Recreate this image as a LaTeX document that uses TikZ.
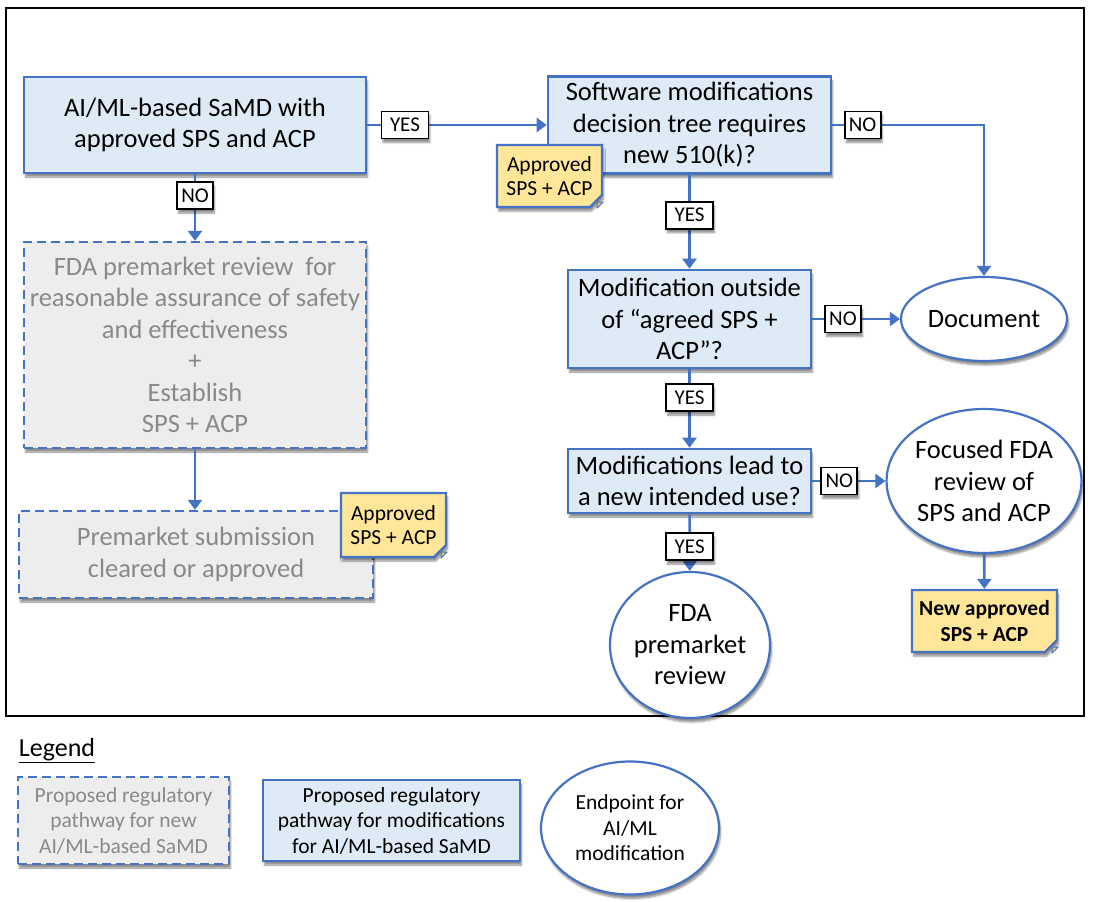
\documentclass[tikz,border=0pt]{standalone}
\usepackage{fontspec}
\setmainfont{Carlito}
\usetikzlibrary{arrows.meta,shapes.geometric,shapes.misc,shadows.blur}

\definecolor{flowBlue}{RGB}{68,114,196}
\definecolor{modFill}{RGB}{222,235,247}
\definecolor{newFill}{RGB}{237,237,237}
\definecolor{newText}{RGB}{137,137,137}
\definecolor{noteFill}{RGB}{255,230,153}
\definecolor{foldFill}{RGB}{222,196,122}

\begin{document}
\begin{tikzpicture}
   [x=1pt,y=-1pt,
    every node/.style={align=center,inner sep=0pt},
    softShadow/.style={blur shadow={shadow xshift=1.5pt,shadow yshift=-4pt,shadow blur steps=6,shadow opacity=45}},
    bigFont/.style={font=\fontsize{26.5}{31.5}\selectfont},
    legendFont/.style={font=\fontsize{21.5}{25.5}\selectfont},
    modBox/.style={rectangle,draw=flowBlue,fill=modFill,line width=2.6pt,bigFont,softShadow},
    newBox/.style={rectangle,draw=flowBlue,fill=newFill,text=newText,line width=2.4pt,dash pattern=on 9pt off 5pt,bigFont,softShadow},
    endPoint/.style={ellipse,draw=flowBlue,fill=white,line width=2.2pt,bigFont,softShadow},
    noteBox/.style={chamfered rectangle,chamfered rectangle corners=south east,chamfered rectangle sep=6pt,
       draw=flowBlue,fill=noteFill,line width=2.2pt,font=\fontsize{21.5}{24}\selectfont,softShadow},
    yesNo/.style={rectangle,draw=black,fill=white,line width=1.8pt,minimum height=27pt,minimum width=36pt,inner xsep=4pt,
       font=\fontsize{21}{22}\selectfont,softShadow},
    yesTag/.style={yesNo,minimum width=47pt},
    flow/.style={draw=flowBlue,line width=2.7pt,-{Triangle[length=10pt,width=14pt]}}]
   \useasboundingbox (0,0) rectangle (1095,902);

   \draw[line width=2pt] (6,8) rectangle (1084,716);

   \node[modBox,minimum width=342pt,minimum height=96pt] (samd) at (195,125) {AI/ML-based SaMD with\\approved SPS and ACP};
   \node[newBox,minimum width=342pt,minimum height=206pt] (review) at (195,345)
      {FDA premarket review~ for\\reasonable assurance of safety\\and effectiveness\\+\\Establish\\SPS + ACP};
   \node[newBox,minimum width=354pt,minimum height=87pt] (cleared) at (196,554.5) {Premarket submission\\cleared or approved};
   \node[noteBox,minimum width=105pt,minimum height=64pt] (noteNew) at (393.5,525) {Approved\\SPS + ACP};

   \node[modBox,minimum width=283pt,minimum height=97pt] (tree) at (689.5,125) {Software modifications\\decision tree requires\\new 510(k)?};
   \node[noteBox,minimum width=105pt,minimum height=62pt] (noteTree) at (549.5,176) {Approved\\SPS + ACP};
   \node[modBox,minimum width=243pt,minimum height=98pt] (outside) at (689.5,319) {Modification outside\\of “agreed SPS +\\ACP”?};
   \node[modBox,minimum width=243pt,minimum height=64pt] (intended) at (689.5,481) {Modifications lead to\\a new intended use?};

   \node[endPoint,minimum width=166pt,minimum height=84pt] (doc) at (984,319) {Document};
   \node[endPoint,minimum width=190pt,minimum height=144pt] (focused) at (984,481) {Focused FDA\\review of\\SPS and ACP};
   \node[endPoint,minimum width=160pt,minimum height=146pt] (premarket) at (690,645) {FDA\\premarket\\review};
   \node[noteBox,minimum width=145pt,minimum height=62pt,font=\fontsize{21.5}{26}\selectfont\bfseries] (noteFocused)
      at (984.5,621) {New approved\\SPS + ACP};

   \draw[flow] (samd) -- node[yesTag,pos=0.21] {YES} (tree);
   \draw[flow] (samd) -- node[yesNo,pos=0.32] {NO} (review);
   \draw[flow] (review.south) -- (review.south |- cleared.north);
   \draw[flow] (tree) -- node[yesTag,pos=0.43] {YES} (outside);
   \draw[flow] (tree.east) -| node[yesNo,pos=0.1] {NO} (doc.north);
   \draw[flow] (outside) -- node[yesNo,pos=0.35] {NO} (doc);
   \draw[flow] (outside) -- node[yesTag,pos=0.36] {YES} (intended);
   \draw[flow] (intended) -- node[yesNo,pos=0.37] {NO} (focused);
   \draw[flow] (intended) -- node[yesTag,pos=0.57] {YES} (premarket);
   \draw[flow] (focused) -- (noteFocused);

   \foreach \n in {noteTree,noteNew,noteFocused}
      \filldraw[draw=flowBlue,fill=foldFill,line width=1pt,line join=round]
         (\n.east |- \n.south) ++(0,-6) -- ++(-6,6) -- ++(0,-6) -- cycle;

   \node[font=\fontsize{26}{30}\selectfont] (legendTitle) at (57,751) {\underline{Legend}};
   \node[newBox,legendFont,line width=2.2pt,minimum width=211pt,minimum height=87pt] (legendNew) at (123.5,820.5)
      {Proposed regulatory\\pathway for new\\AI/ML-based SaMD};
   \node[modBox,legendFont,line width=2.2pt,minimum width=257pt,minimum height=81pt] (legendMod) at (391.5,820.5)
      {Proposed regulatory\\pathway for modifications\\for AI/ML-based SaMD};
   \node[endPoint,legendFont,minimum width=178pt,minimum height=133pt] (legendEnd) at (630,828)
      {Endpoint for\\AI/ML\\modification};
\end{tikzpicture}
\end{document}
